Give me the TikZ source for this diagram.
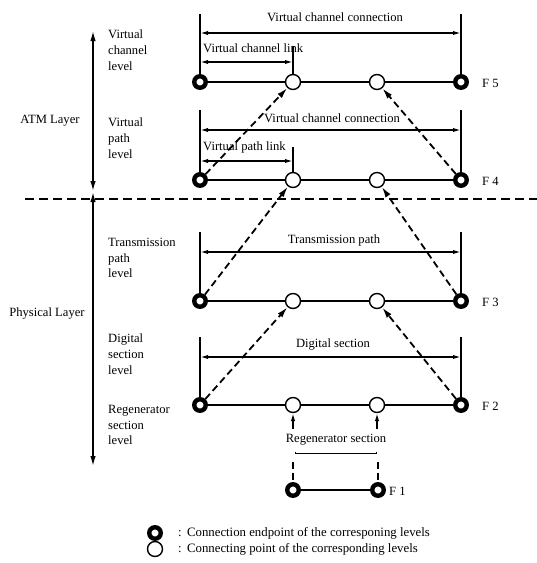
\documentclass[tikz,border=0pt]{standalone}
\usepackage{fontspec}
\setmainfont{Liberation Serif}
\usetikzlibrary{arrows.meta}
\begin{document}
\begin{tikzpicture}[x=1pt,y=-1pt,
  font=\fontsize{12.6}{15.6}\selectfont,
  endpt/.style={circle,draw,line width=4.4pt,minimum size=11.5pt,inner sep=0pt,fill=white},
  connpt/.style={circle,draw,line width=1.4pt,minimum size=15pt,inner sep=0pt,fill=white},
  rowline/.style={line width=1.3pt},
  bar/.style={line width=1.4pt},
  dimarr/.style={line width=1.4pt,{Latex[length=8pt,width=4.2pt]}-{Latex[length=8pt,width=4.2pt]}},
  uparr/.style={line width=1.4pt,-{Latex[length=8pt,width=4.5pt]}},
  dasharr/.style={line width=1.8pt,dash pattern=on 7pt off 4pt,-{Latex[length=11pt,width=6pt]}},
  dashln/.style={line width=1.8pt,dash pattern=on 7pt off 3.5pt},
  lvl/.style={align=left,anchor=north west,inner sep=0pt},
  flabel/.style={anchor=west,inner sep=0pt},
  layerarr/.style={line width=1.5pt,{Latex[length=10pt,width=5.5pt]}-{Latex[length=10pt,width=5.5pt]}},
  legendtext/.style={anchor=west,inner sep=0pt,font=\fontsize{12.8}{14}\selectfont}
]
\useasboundingbox (0,0) rectangle (537,563);

% ---- layer axis on the left
\coordinate (atop) at (93,31);
\coordinate (amid1) at (93,191);
\coordinate (amid2) at (93,192);
\coordinate (abot) at (93,466);
\draw[layerarr] (atop) -- (amid1);
\draw[layerarr] (amid2) -- (abot);
\coordinate (sepL) at (25,199);
\coordinate (sepR) at (537,199);
\draw[line width=1.7pt,dash pattern=on 9pt off 5pt] (sepL) -- (sepR);
\node (atm) at (50,121) {ATM Layer};
\node (phy) at (47,313) {Physical Layer};

% ---- level names
\node[lvl] (lv5) at (108,30) {Virtual\\channel\\level};
\node[lvl] (lv4) at (108,118) {Virtual\\path\\level};
\node[lvl] (lv3) at (108,238) {Transmission\\path\\level};
\node[lvl] (lv2) at (108,334) {Digital\\section\\level};
\node[lvl] (lv1) at (108,405) {Regenerator\\section\\level};

% ---- F5 row
\node[endpt]  (e5l) at (200,82) {};
\node[connpt] (c5a) at (293,82) {};
\node[connpt] (c5b) at (377,82) {};
\node[endpt]  (e5r) at (461,82) {};
\node[flabel] (f5) at (482,83) {F 5};
\draw[rowline] (e5l) -- (c5a) -- (c5b) -- (e5r);
\coordinate (t5l) at (200,14);
\coordinate (t5r) at (461,14);
\coordinate (l5t) at (293,46);
\draw[bar] (e5l) -- (t5l);
\draw[bar] (e5r) -- (t5r);
\draw[bar] (c5a) -- (l5t);
\coordinate (a5l) at (200,33);
\coordinate (a5r) at (461,33);
\draw[dimarr] (a5l) -- (a5r);
\node (t5) at (335,17) {Virtual channel connection};
\coordinate (k5l) at (200,62);
\coordinate (k5r) at (293,62);
\draw[dimarr] (k5l) -- (k5r);
\node[anchor=west,inner sep=0pt] (k5) at (203,48) {Virtual channel link};

% ---- F4 row
\node[endpt]  (e4l) at (200,180) {};
\node[connpt] (c4a) at (293,180) {};
\node[connpt] (c4b) at (377,180) {};
\node[endpt]  (e4r) at (461,180) {};
\node[flabel] (f4) at (482,181) {F 4};
\draw[rowline] (e4l) -- (c4a) -- (c4b) -- (e4r);
\coordinate (t4l) at (200,110);
\coordinate (t4r) at (461,110);
\coordinate (l4t) at (293,147);
\draw[bar] (e4l) -- (t4l);
\draw[bar] (e4r) -- (t4r);
\draw[bar] (c4a) -- (l4t);
\coordinate (a4l) at (200,130);
\coordinate (a4r) at (461,130);
\draw[dimarr] (a4l) -- (a4r);
\node (t4) at (332,118) {Virtual channel connection};
\coordinate (k4l) at (200,161);
\coordinate (k4r) at (293,161);
\draw[dimarr] (k4l) -- (k4r);
\node[anchor=west,inner sep=0pt] (k4) at (203,147) {Virtual path link};

% ---- F3 row
\node[endpt]  (e3l) at (200,301) {};
\node[connpt] (c3a) at (293,301) {};
\node[connpt] (c3b) at (377,301) {};
\node[endpt]  (e3r) at (461,301) {};
\node[flabel] (f3) at (482,302) {F 3};
\draw[rowline] (e3l) -- (c3a) -- (c3b) -- (e3r);
\coordinate (t3l) at (200,232);
\coordinate (t3r) at (461,232);
\draw[bar] (e3l) -- (t3l);
\draw[bar] (e3r) -- (t3r);
\coordinate (a3l) at (200,252);
\coordinate (a3r) at (461,252);
\draw[dimarr] (a3l) -- (a3r);
\node (t3) at (334,240) {Transmission path};

% ---- F2 row
\node[endpt]  (e2l) at (200,405) {};
\node[connpt] (c2a) at (293,405) {};
\node[connpt] (c2b) at (377,405) {};
\node[endpt]  (e2r) at (461,405) {};
\node[flabel] (f2) at (482,406) {F 2};
\draw[rowline] (e2l) -- (c2a) -- (c2b) -- (e2r);
\coordinate (t2l) at (200,337);
\coordinate (t2r) at (461,337);
\draw[bar] (e2l) -- (t2l);
\draw[bar] (e2r) -- (t2r);
\coordinate (a2l) at (200,357);
\coordinate (a2r) at (461,357);
\draw[dimarr] (a2l) -- (a2r);
\node (t2) at (333,344) {Digital section};

% ---- F1 row
\node[endpt] (e1l) at (293,490) {};
\node[endpt] (e1r) at (378,490) {};
\node[flabel] (f1) at (389,491) {F 1};
\draw[rowline] (e1l) -- (e1r);

% ---- regenerator section link to F2
\node (rs) at (336,440) {Regenerator section};
\coordinate (r1a) at (293,429);
\coordinate (r2a) at (377,429);
\draw[uparr] (r1a) -- (c2a);
\draw[uparr] (r2a) -- (c2b);
\coordinate (bk1) at (295,453);
\coordinate (bk2) at (376,453);
\draw[line width=0.7pt] ([yshift=1.5pt]bk1) -- (bk1) -- (bk2) -- ([yshift=1.5pt]bk2);
\coordinate (d1) at (293,462);
\coordinate (d2) at (378,462);
\draw[dashln] (d1) -- (e1l);
\draw[dashln] (d2) -- (e1r);

% ---- dashed arrows between levels
\draw[dasharr] (e4l) -- (c5a);
\draw[dasharr] (e4r) -- (c5b);
\draw[dasharr] (e3l) -- (c4a);
\draw[dasharr] (e3r) -- (c4b);
\draw[dasharr] (e2l) -- (c3a);
\draw[dasharr] (e2r) -- (c3b);

% ---- legend
\node[endpt]  (lg1) at (155,533) {};
\node[connpt] (lg2) at (155,549) {};
\node[legendtext] (lt1) at (178,533) {:\ \,Connection endpoint of the corresponing levels};
\node[legendtext] (lt2) at (178,549) {:\ \,Connecting point of the corresponding levels};
\end{tikzpicture}
\end{document}
